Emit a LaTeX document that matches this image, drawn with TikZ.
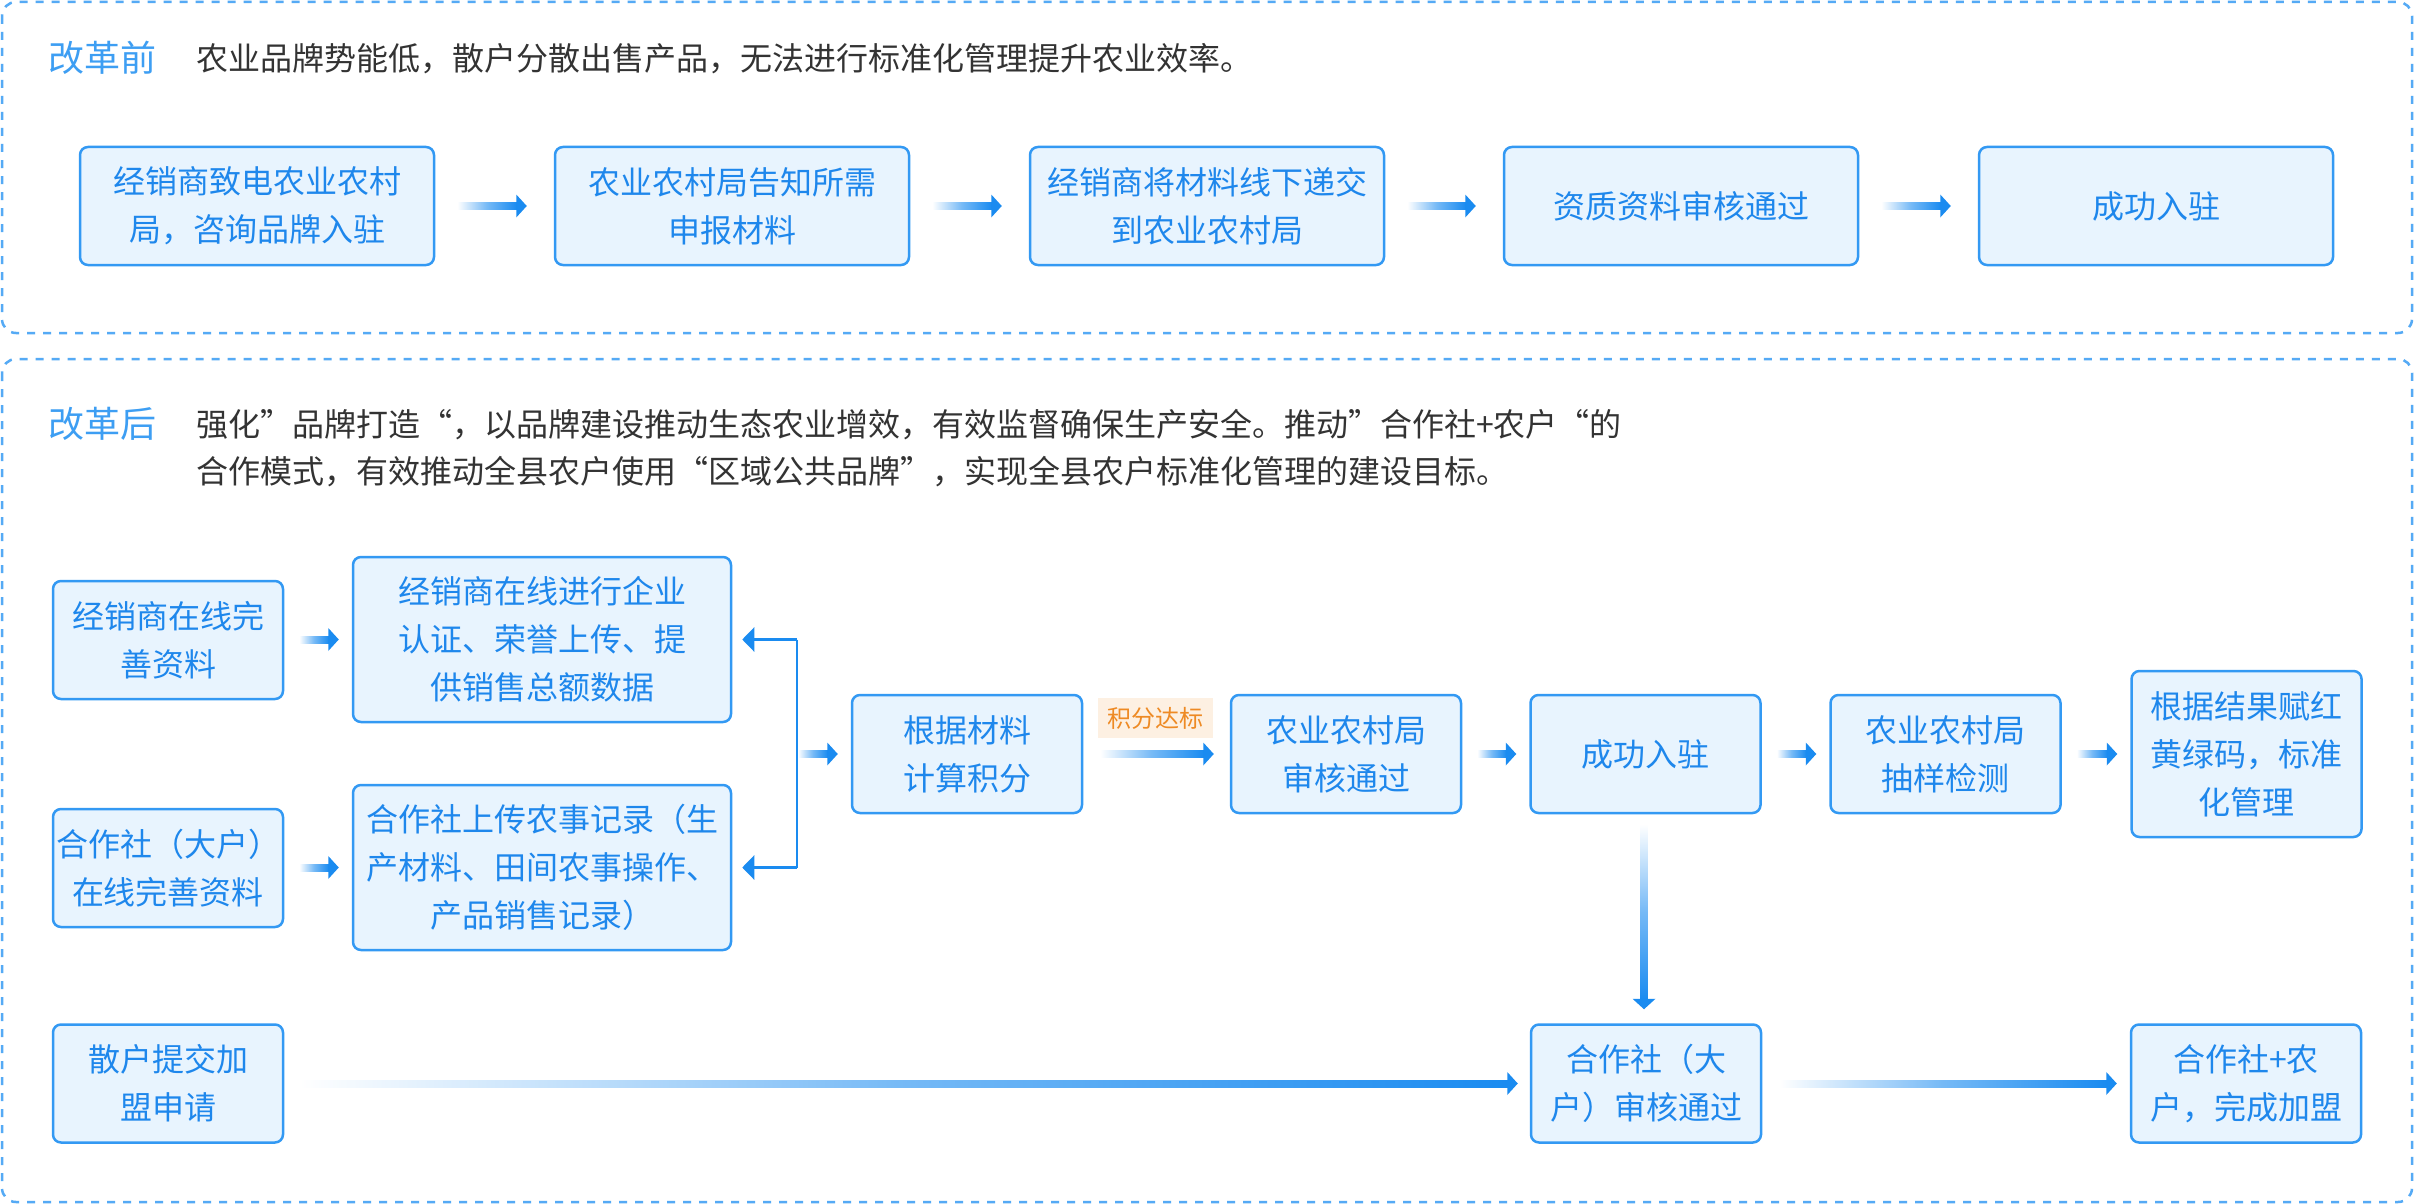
\documentclass[tikz,border=0pt]{standalone}
\usepackage{fontspec}
\setmainfont{Noto Sans CJK SC}
\newfontfamily\fwfont{Noto Sans CJK SC}[CharacterWidth=Full]
\usetikzlibrary{calc,arrows.meta}

\definecolor{boxfill}{HTML}{E8F4FE}
\definecolor{boxline}{HTML}{3399F3}
\definecolor{boxtext}{HTML}{1E87EC}
\definecolor{flow}{HTML}{1A8BF0}
\definecolor{frame}{HTML}{55AAF5}
\definecolor{headblue}{HTML}{3D9EF3}
\definecolor{bodytext}{HTML}{333333}
\definecolor{tagfill}{HTML}{FDF0E2}
\definecolor{tagtext}{HTML}{EE8A24}

% horizontal gradient arrow: #1 start point, #2 tip point
\newcommand\flowarrow[2]{%
  \path #1 coordinate (fa-s) #2 coordinate (fa-t);
  \shade[left color=white, right color=flow, middle color=flow!60]
    ($(fa-s)+(0,-3.5)$) rectangle ($(fa-t)+(-10,3.5)$);
  \fill[flow] ($(fa-t)+(-10.5,-11.5)$) -- (fa-t) -- ($(fa-t)+(-10.5,11.5)$) -- cycle;}

% vertical gradient arrow pointing down: #1 start point, #2 tip point
\newcommand\flowdown[2]{%
  \path #1 coordinate (fd-s) #2 coordinate (fd-t);
  \shade[top color=white, bottom color=flow, middle color=flow!60]
    ($(fd-s)+(-3.5,0)$) rectangle ($(fd-t)+(3.5,-10)$);
  \fill[flow] ($(fd-t)+(-11.5,-10.5)$) -- (fd-t) -- ($(fd-t)+(11.5,-10.5)$) -- cycle;}

\tikzset{
  stepbox/.style={draw=boxline, fill=boxfill, line width=2.5pt, rounded corners=8pt,
    text=boxtext, align=center, font=\fontsize{32}{48}\selectfont, inner sep=0pt},
  wide/.style={minimum width=354pt, minimum height=118pt},
  small/.style={minimum width=230pt, minimum height=118pt},
  panel/.style={draw=frame, line width=2.5pt, dash pattern=on 8pt off 8pt, rounded corners=14pt},
  headline/.style={anchor=west, inner sep=0pt, text=headblue, font=\fontsize{36}{36}\selectfont},
  bodyline/.style={anchor=west, inner sep=0pt, text=bodytext, font=\fontsize{32}{48}\selectfont},
  bracket/.style={draw=flow, line width=2.5pt},
}

\begin{document}
\begin{tikzpicture}[x=1pt, y=-1pt]
\useasboundingbox (0,0) rectangle (2414,1204);
\fill[white] (0,0) rectangle (2414,1204);

% the two section frames
\draw[panel] (2,2) rectangle (2412,333);
\draw[panel] (2,359) rectangle (2412,1202);

% ---- before the reform ----
\node[headline] (h1) at (48,58) {改革前};
\node[bodyline] (d1) at (196,59) {农业品牌势能低，散户分散出售产品，无法进行标准化管理提升农业效率。};

\node[stepbox, wide] (t1) at (257,206) {经销商致电农业农村\\局，咨询品牌入驻};
\node[stepbox, wide] (t2) at (732,206) {农业农村局告知所需\\申报材料};
\node[stepbox, wide] (t3) at (1207,206) {经销商将材料线下递交\\到农业农村局};
\node[stepbox, wide] (t4) at (1681,206) {资质资料审核通过};
\node[stepbox, wide] (t5) at (2156,206) {成功入驻};

\flowarrow{($(t1.east)+(22,0)$)}{($(t2.west)+(-27,0)$)}
\flowarrow{($(t2.east)+(22,0)$)}{($(t3.west)+(-27,0)$)}
\flowarrow{($(t3.east)+(22,0)$)}{($(t4.west)+(-27,0)$)}
\flowarrow{($(t4.east)+(22,0)$)}{($(t5.west)+(-27,0)$)}

% ---- after the reform ----
\node[headline] (h2) at (48,424) {改革后};
\node[bodyline] (d2a) at (196,425) {强化{\fwfont ”}品牌打造{\fwfont “}，以品牌建设推动生态农业增效，有效监督确保生产安全。推动{\fwfont ”}合作社+农户{\fwfont “}的};
\node[bodyline] (d2b) at (196,472) {合作模式，有效推动全县农户使用{\fwfont “}区域公共品牌{\fwfont ”}，实现全县农户标准化管理的建设目标。};

\node[stepbox, small] (a) at (168,640) {经销商在线完\\善资料};
\node[stepbox, minimum width=378pt, minimum height=165pt] (b) at (542,639.5) {经销商在线进行企业\\认证、荣誉上传、提\\供销售总额数据};
\node[stepbox, small] (c) at (168,868) {合作社（大户）\\在线完善资料};
\node[stepbox, minimum width=378pt, minimum height=165pt] (d) at (542,867.5) {合作社上传农事记录（生\\产材料、田间农事操作、\\产品销售记录）};

\node[stepbox, small] (e) at (967,754) {根据材料\\计算积分};
\node[stepbox, small] (f) at (1346,754) {农业农村局\\审核通过};
\node[stepbox, small] (g) at (1645.5,754) {成功入驻};
\node[stepbox, small] (hh) at (1945.5,754) {农业农村局\\抽样检测};
\node[stepbox, minimum width=230pt, minimum height=166pt] (i) at (2246.5,754) {根据结果赋红\\黄绿码，标准\\化管理};

\node[stepbox, small] (j) at (168,1083.5) {散户提交加\\盟申请};
\node[stepbox, small] (k) at (1646,1083.5) {合作社（大\\户）审核通过};
\node[stepbox, small] (l) at (2246,1083.5) {合作社+农\\户，完成加盟};

\node[fill=tagfill, text=tagtext, font=\fontsize{24}{24}\selectfont, inner sep=0pt,
      minimum width=115pt, minimum height=40pt] (tag) at (1155.5,718) {积分达标};

% upload steps
\flowarrow{($(a.east)+(15,0)$)}{($(b.west)+(-13,0)$)}
\flowarrow{($(c.east)+(15,0)$)}{($(d.west)+(-13,0)$)}

% bracket joining both upload steps
\coordinate (bx) at (797,754);
\draw[bracket] (bx|-b.east) -- (bx|-d.east);
\draw[bracket, -{Triangle[length=12pt,width=24pt]}] (bx|-b.east) -- ($(b.east)+(10,0)$);
\draw[bracket, -{Triangle[length=12pt,width=24pt]}] (bx|-d.east) -- ($(d.east)+(10,0)$);
\flowarrow{($(bx)+(1,0)$)}{($(e.west)+(-13,0)$)}

% review chain
\flowarrow{($(e.east)+(17,0)$)}{($(f.west)+(-16,0)$)}
\flowarrow{($(f.east)+(15,0)$)}{($(g.west)+(-13,0)$)}
\flowarrow{($(g.east)+(15,0)$)}{($(hh.west)+(-13,0)$)}
\flowarrow{($(hh.east)+(15,0)$)}{($(i.west)+(-13,0)$)}

% joining path for individual households
\flowdown{($(g.south)+(-2,10)$)}{($(k.north)+(-2,-14)$)}
\flowarrow{($(j.east)+(15,0)$)}{($(k.west)+(-12,0)$)}
\flowarrow{($(k.east)+(17,0)$)}{($(l.west)+(-13,0)$)}
\end{tikzpicture}
\end{document}
